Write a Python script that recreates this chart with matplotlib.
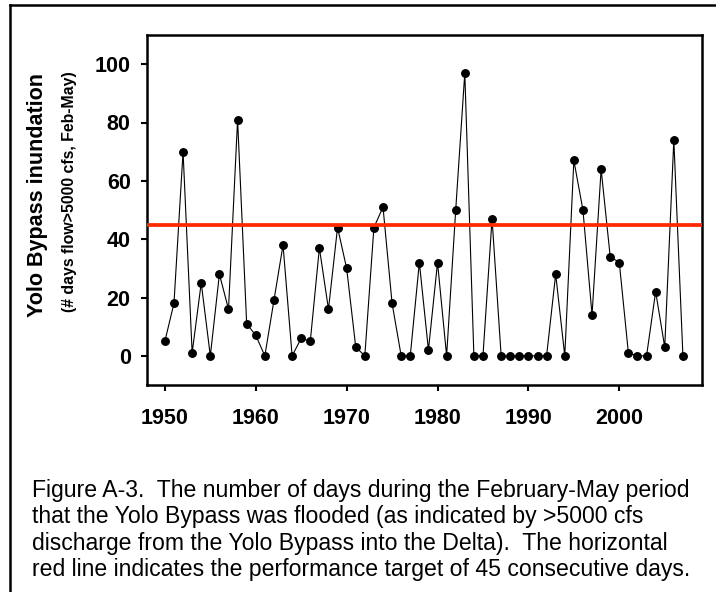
import matplotlib
matplotlib.use("Agg")
import matplotlib.pyplot as plt
from matplotlib.lines import Line2D

years = list(range(1950, 2008))
days = [5, 18, 70, 1, 25, 0, 28, 16, 81, 11,
        7, 0, 19, 38, 0, 6, 5, 37, 16, 44,
        30, 3, 0, 44, 51, 18, 0, 0, 32, 2,
        32, 0, 50, 97, 0, 0, 47, 0, 0, 0,
        0, 0, 0, 28, 0, 67, 50, 14, 64, 34,
        32, 1, 0, 0, 22, 3, 74, 0]
target = 45
xticks = [1950, 1960, 1970, 1980, 1990, 2000]
yticks = [0, 20, 40, 60, 80, 100]
ylabel_main = "Yolo Bypass inundation"
ylabel_sub = "(# days flow>5000 cfs, Feb-May)"
caption = [
    "Figure A-3.  The number of days during the February-May period",
    "that the Yolo Bypass was flooded (as indicated by >5000 cfs",
    "discharge from the Yolo Bypass into the Delta).  The horizontal",
    "red line indicates the performance target of 45 consecutive days.",
]

plt.rcParams['font.family'] = ['Liberation Sans', 'DejaVu Sans']

W, H = 716, 592
fig = plt.figure(figsize=(W / 100, H / 100), dpi=100)
ax = fig.add_axes([146.7 / W, 1 - 385 / H, (702 - 146.7) / W, (385 - 35) / H])

ax.plot(years, days, color='black', lw=0.8, marker='o', ms=5.4,
        markerfacecolor='black', markeredgecolor='black', zorder=3)
ax.axhline(target, color='#FF2A00', lw=2.7, zorder=4)

ax.set_xlim(1948, 2009.1)
ax.set_ylim(-10, 110)
ax.set_xticks(xticks)
ax.set_yticks(yticks)
for s in ax.spines.values():
    s.set_linewidth(1.8)
ax.tick_params(direction='out', length=4.5, width=1.5, labelsize=15.5)
ax.tick_params(axis='x', pad=12)
ax.tick_params(axis='y', pad=7)
for lab in ax.get_xticklabels() + ax.get_yticklabels():
    lab.set_fontweight('bold')

fig.text(37.5 / W, 1 - 195 / H, ylabel_main, rotation=90, ha='center', va='center',
         fontsize=15.5, fontweight='bold')
fig.text(69.5 / W, 1 - 192 / H, ylabel_sub, rotation=90, ha='center', va='center',
         fontsize=11.4, fontweight='bold')

baselines = [497, 523.5, 550, 576]
for line, b in zip(caption, baselines):
    fig.text(31.7 / W, 1 - b / H, line, ha='left', va='baseline', fontsize=16.6)

# outer frame (left and top edges visible)
fig.add_artist(Line2D([9.5 / W, 9.5 / W], [0, 1 - 5 / H], transform=fig.transFigure,
                      color='black', lw=1.8))
fig.add_artist(Line2D([9.5 / W, 1], [1 - 5 / H, 1 - 5 / H], transform=fig.transFigure,
                      color='black', lw=1.8))

fig.savefig('out.png', dpi=100)
